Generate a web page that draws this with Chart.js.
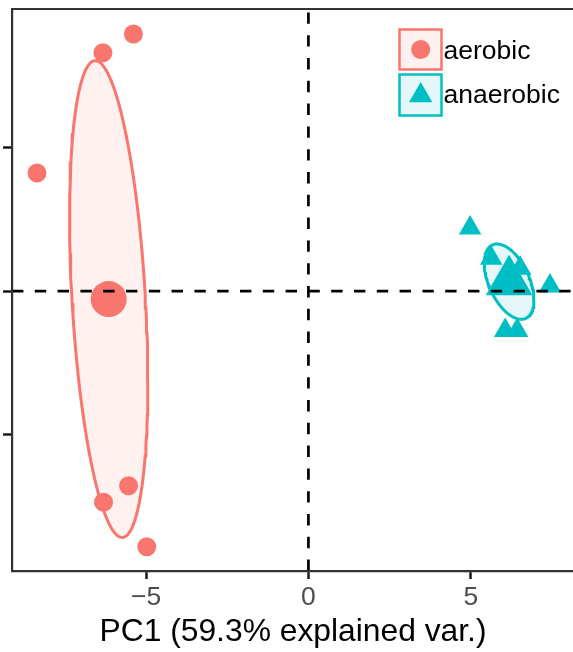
<!DOCTYPE html>
<html>
<head>
<meta charset="utf-8">
<script src="https://cdn.jsdelivr.net/npm/chart.js@4"></script>
<style>
  html, body { margin: 0; padding: 0; overflow: hidden; background: #fff; }
  #wrap { width: 573px; height: 652px; overflow: hidden; }
  canvas { display: block; }
</style>
</head>
<body>
<div id="wrap"><canvas id="c" width="576" height="652"></canvas></div>
<script>
// ---- data ----
const groups = ['aerobic', 'anaerobic'];
const groupColors = ['#F8766D', '#00BFC4'];
const aerobicPC1 = [-5.39, -6.33, -8.36, -5.54, -6.31, -4.98];
const aerobicPC2 = [3.59, 3.33, 1.65, -2.72, -2.95, -3.57];
const anaerobicPC1 = [4.98, 5.63, 6.21, 6.52, 7.44, 6.06, 6.43];
const anaerobicPC2 = [0.88, 0.46, 0.29, 0.32, 0.07, -0.55, -0.55];
const xTicks = [-5, 0, 5];
const xTickLabels = ['\u22125', '0', '5'];
const yTicks = [-2, 0, 2];
const xTitle = 'PC1 (59.3% explained var.)';
const xRange = [-9.13, 8.18];
const yRange = [-3.91, 3.94];

// ---- helpers ----
const pts = (xs, ys) => xs.map((x, i) => ({ x, y: ys[i] }));
const mean = a => a.reduce((s, v) => s + v, 0) / a.length;
function ellipseFrom(xs, ys) {
  const n = xs.length, mx = mean(xs), my = mean(ys);
  let sxx = 0, syy = 0, sxy = 0;
  for (let i = 0; i < n; i++) {
    const dx = xs[i] - mx, dy = ys[i] - my;
    sxx += dx * dx; syy += dy * dy; sxy += dx * dy;
  }
  sxx /= n - 1; syy /= n - 1; sxy /= n - 1;
  const a = Math.sqrt(sxx), b = sxy / a, c = Math.sqrt(syy - b * b);
  const out = [];
  for (let k = 0; k <= 120; k++) {
    const t = 2 * Math.PI * k / 120;
    out.push({ x: mx + a * Math.cos(t), y: my + b * Math.cos(t) + c * Math.sin(t) });
  }
  return out;
}
function hexA(hex, a) {
  const r = parseInt(hex.slice(1, 3), 16), g = parseInt(hex.slice(3, 5), 16), b = parseInt(hex.slice(5, 7), 16);
  return `rgba(${r},${g},${b},${a})`;
}

const FONT = "'Liberation Sans', Arial, Helvetica, sans-serif";

const panelBorder = {
  id: 'panelBorder',
  afterDatasetsDraw(chart) {
    const { ctx, chartArea: a } = chart;
    ctx.save();
    ctx.strokeStyle = '#333333';
    ctx.lineWidth = 2;
    ctx.strokeRect(a.left, a.top, a.right - a.left, a.bottom - a.top);
    ctx.restore();
  }
};

const customLegend = {
  id: 'customLegend',
  afterDraw(chart) {
    const ctx = chart.ctx;
    const keys = [
      { y: 29.5, h: 40, style: 'circle', r: 9.5, text: groups[0], color: groupColors[0], base: 59 },
      { y: 74.5, h: 41, style: 'triangle', r: 13.5, text: groups[1], color: groupColors[1], base: 102.5 }
    ];
    ctx.save();
    keys.forEach(k => {
      ctx.fillStyle = hexA(k.color, 0.1);
      ctx.fillRect(399.5, k.y, 42, k.h);
      ctx.strokeStyle = k.color;
      ctx.lineWidth = 2.5;
      ctx.strokeRect(399.5, k.y, 42, k.h);
      ctx.fillStyle = k.color;
      ctx.strokeStyle = k.color;
      Chart.helpers.drawPoint(ctx, { pointStyle: k.style, radius: k.r, borderWidth: 0, rotation: 0 },
        420.7, k.style === 'circle' ? k.y + k.h / 2 : 95.5);
      ctx.fillStyle = '#000';
      ctx.font = `26.5px ${FONT}`;
      ctx.textBaseline = 'alphabetic';
      ctx.textAlign = 'left';
      ctx.fillText(k.text, 443.5, k.base);
    });
    ctx.restore();
  }
};

const dash = [11.4, 11.4];
const datasets = [
  { // horizontal reference line y = 0
    data: [{ x: xRange[0], y: 0 }, { x: xRange[1], y: 0 }],
    showLine: true, borderColor: '#000', borderWidth: 2.7, borderDash: dash,
    pointRadius: 0, order: 0
  },
  { // vertical reference line x = 0
    data: [{ x: 0, y: yRange[0] }, { x: 0, y: yRange[1] }],
    showLine: true, borderColor: '#000', borderWidth: 2.7, borderDash: dash,
    pointRadius: 0, order: 0
  },
  {
    label: groups[0], data: pts(aerobicPC1, aerobicPC2),
    pointStyle: 'circle', pointRadius: 9.5, backgroundColor: groupColors[0],
    borderWidth: 0, order: 1
  },
  {
    label: groups[1], data: pts(anaerobicPC1, anaerobicPC2),
    pointStyle: 'triangle', pointRadius: 13, backgroundColor: groupColors[1],
    borderWidth: 0, order: 1
  },
  {
    data: [{ x: mean(aerobicPC1), y: mean(aerobicPC2) }],
    pointStyle: 'circle', pointRadius: 18, backgroundColor: groupColors[0],
    borderWidth: 0, order: 2
  },
  {
    data: [{ x: mean(anaerobicPC1), y: mean(anaerobicPC2) }],
    pointStyle: 'triangle', pointRadius: 27, backgroundColor: groupColors[1],
    borderWidth: 0, order: 2
  },
  {
    data: ellipseFrom(aerobicPC1, aerobicPC2),
    showLine: true, tension: 0, pointRadius: 0, borderColor: groupColors[0], borderWidth: 3,
    backgroundColor: hexA(groupColors[0], 0.1), fill: 'shape', order: 3
  },
  {
    data: ellipseFrom(anaerobicPC1, anaerobicPC2),
    showLine: true, tension: 0, pointRadius: 0, borderColor: groupColors[1], borderWidth: 3,
    backgroundColor: hexA(groupColors[1], 0.1), fill: 'shape', order: 3
  }
];

new Chart(document.getElementById('c'), {
  type: 'scatter',
  data: { datasets },
  options: {
    responsive: false,
    animation: false,
    events: [],
    layout: { autoPadding: false, padding: { left: 3, right: 2, top: 9, bottom: 0 } },
    plugins: { legend: { display: false }, tooltip: { enabled: false } },
    scales: {
      x: {
        type: 'linear', min: xRange[0], max: xRange[1],
        afterBuildTicks: s => { s.ticks = xTicks.map(v => ({ value: v })); },
        afterFit: s => { s.height = 81; },
        grid: { drawOnChartArea: false, drawTicks: true, tickLength: 8, tickColor: '#111', tickWidth: 2.4 },
        border: { display: true, color: '#2b2b2b', width: 2.2 },
        ticks: {
          color: '#4D4D4D', padding: 5.5, maxRotation: 0,
          font: { family: FONT, size: 26.5, lineHeight: 1 },
          callback: v => xTickLabels[xTicks.indexOf(v)]
        },
        title: {
          display: true, text: xTitle, color: '#000',
          font: { family: FONT, size: 31.8, lineHeight: 1 },
          padding: { top: 0, bottom: 4 }
        }
      },
      y: {
        type: 'linear', min: yRange[0], max: yRange[1],
        afterBuildTicks: s => { s.ticks = yTicks.map(v => ({ value: v })); },
        grid: { drawOnChartArea: false, drawTicks: true, tickLength: 9, tickColor: '#111', tickWidth: 2.4 },
        border: { display: true, color: '#2b2b2b', width: 2.2 },
        ticks: { display: false }
      }
    }
  },
  plugins: [panelBorder, customLegend]
});
</script>
</body>
</html>
